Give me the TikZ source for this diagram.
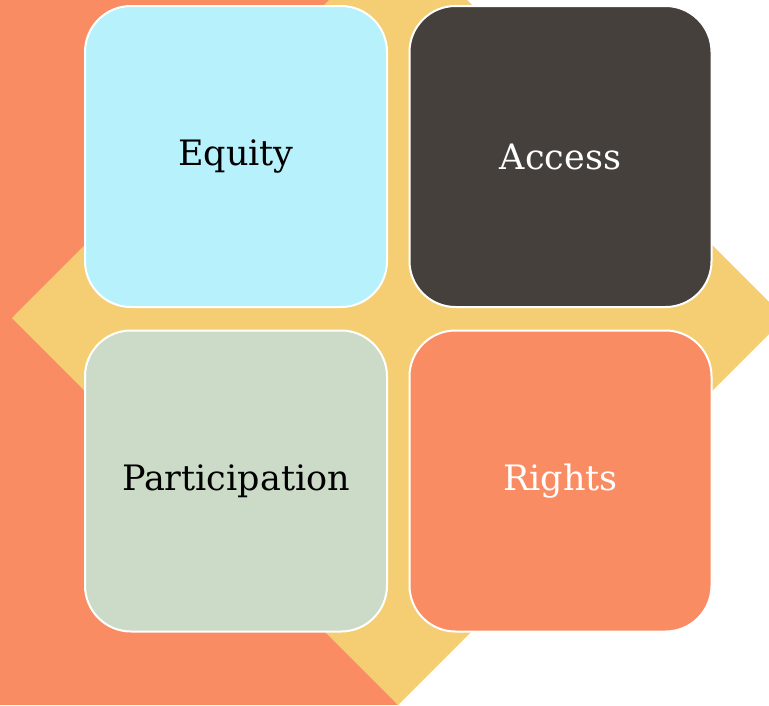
\documentclass[tikz,border=0pt]{standalone}
\usepackage{fontspec}
\setmainfont{DejaVu Serif}
\definecolor{bgorange}{RGB}{250,140,99}
\definecolor{diayellow}{RGB}{245,206,116}
\definecolor{eqblue}{RGB}{182,241,252}
\definecolor{acdark}{RGB}{69,64,60}
\definecolor{pasage}{RGB}{204,219,200}
\tikzset{
  tile/.style={draw=white, line width=2pt, rounded corners=46pt,
    minimum width=302pt, minimum height=301pt, inner sep=0pt,
    font=\fontsize{35}{42}\selectfont},
}
\begin{document}
\begin{tikzpicture}[x=1pt,y=-1pt]
\useasboundingbox (0,0) rectangle (769,705);
\clip (0,0) rectangle (769,705);
\fill[bgorange] (0,0) rectangle (398,705);
\fill[diayellow] (12,318) -- (398,-69) -- (785,318) -- (398,705) -- cycle;
\node[tile, fill=eqblue, text=black] (equity) at (236,156.5) {Equity};
\node[tile, fill=acdark, text=white] (access) at (560.5,156.5) {Access};
\node[tile, fill=pasage, text=black] (participation) at (236,481) {Participation};
\node[tile, fill=bgorange, text=white] (rights) at (560.5,481) {Rights};
\end{tikzpicture}
\end{document}
